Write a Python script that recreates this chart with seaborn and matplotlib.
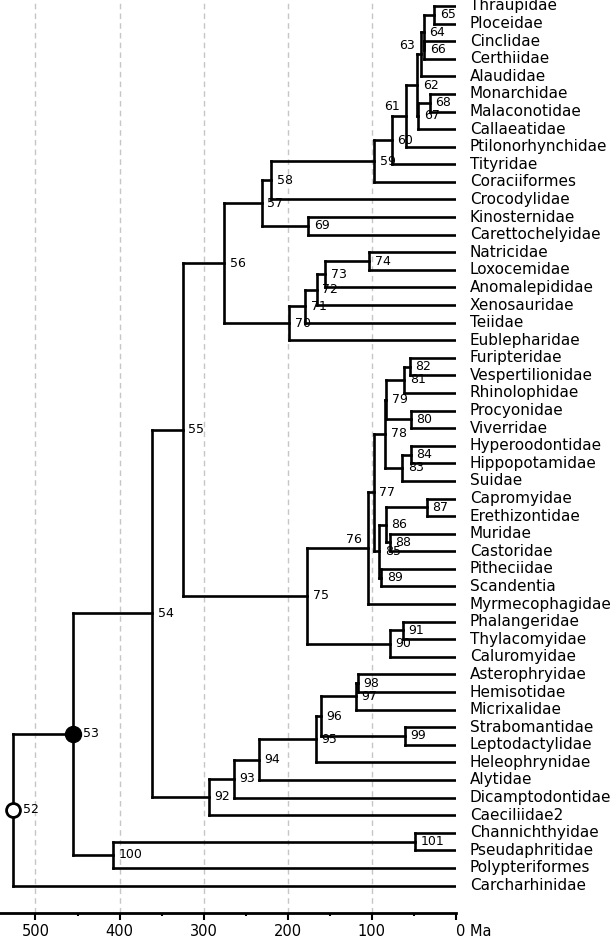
import numpy as np
import pandas as pd
import matplotlib
matplotlib.use('Agg')
import matplotlib.pyplot as plt
import seaborn as sns

# ---------------- data ----------------
tips = ['Thraupidae', 'Ploceidae', 'Cinclidae', 'Certhiidae', 'Alaudidae',
        'Monarchidae', 'Malaconotidae', 'Callaeatidae', 'Ptilonorhynchidae',
        'Tityridae', 'Coraciiformes', 'Crocodylidae', 'Kinosternidae',
        'Carettochelyidae', 'Natricidae', 'Loxocemidae', 'Anomalepididae',
        'Xenosauridae', 'Teiidae', 'Eublepharidae', 'Furipteridae',
        'Vespertilionidae', 'Rhinolophidae', 'Procyonidae', 'Viverridae',
        'Hyperoodontidae', 'Hippopotamidae', 'Suidae', 'Capromyidae',
        'Erethizontidae', 'Muridae', 'Castoridae', 'Pitheciidae', 'Scandentia',
        'Myrmecophagidae', 'Phalangeridae', 'Thylacomyidae', 'Caluromyidae',
        'Asterophryidae', 'Hemisotidae', 'Micrixalidae', 'Strabomantidae',
        'Leptodactylidae', 'Heleophrynidae', 'Alytidae', 'Dicamptodontidae',
        'Caeciliidae2', 'Channichthyidae', 'Pseudaphritidae', 'Polypteriformes',
        'Carcharhinidae']

node_ids = list(range(52, 102))

node_ages = [527, 455, 361, 325, 275.5, 231, 220, 97.5, 76.5, 59.6,   # 52-61
             46, 41.6, 38.5, 25.8, 37.5, 45, 31, 175.6, 198, 179.5,   # 62-71
             165.7, 155.8, 103.4, 176.8, 105, 98, 84, 83, 53.5, 61.4, # 72-81
             54.7, 63.8, 53.5, 91, 83.6, 34.9, 78.5, 89, 78.5, 63.4,  # 82-91
             294.2, 264, 234.2, 166.8, 160.9, 119.3, 116.9, 60.6,     # 92-99
             407.5, 48.4]                                              # 100-101

node_children = [
    [53, 'Carcharhinidae'],                 # 52
    [54, 100],                              # 53
    [55, 92],                               # 54
    [56, 75],                               # 55
    [57, 70],                               # 56
    [58, 69],                               # 57
    [59, 'Crocodylidae'],                   # 58
    [60, 'Coraciiformes'],                  # 59
    [61, 'Tityridae'],                      # 60
    [62, 'Ptilonorhynchidae'],              # 61
    [63, 67],                               # 62
    [64, 'Alaudidae'],                      # 63
    [65, 66],                               # 64
    ['Thraupidae', 'Ploceidae'],            # 65
    ['Cinclidae', 'Certhiidae'],            # 66
    [68, 'Callaeatidae'],                   # 67
    ['Monarchidae', 'Malaconotidae'],       # 68
    ['Kinosternidae', 'Carettochelyidae'],  # 69
    [71, 'Eublepharidae'],                  # 70
    [72, 'Teiidae'],                        # 71
    [73, 'Xenosauridae'],                   # 72
    [74, 'Anomalepididae'],                 # 73
    ['Natricidae', 'Loxocemidae'],          # 74
    [76, 90],                               # 75
    [77, 'Myrmecophagidae'],                # 76
    [78, 85],                               # 77
    [79, 83],                               # 78
    [81, 80],                               # 79
    ['Procyonidae', 'Viverridae'],          # 80
    [82, 'Rhinolophidae'],                  # 81
    ['Furipteridae', 'Vespertilionidae'],   # 82
    [84, 'Suidae'],                         # 83
    ['Hyperoodontidae', 'Hippopotamidae'],  # 84
    [86, 89],                               # 85
    [87, 88],                               # 86
    ['Capromyidae', 'Erethizontidae'],      # 87
    ['Muridae', 'Castoridae'],              # 88
    ['Pitheciidae', 'Scandentia'],          # 89
    [91, 'Caluromyidae'],                   # 90
    ['Phalangeridae', 'Thylacomyidae'],     # 91
    [93, 'Caeciliidae2'],                   # 92
    [94, 'Dicamptodontidae'],               # 93
    [95, 'Alytidae'],                       # 94
    [96, 'Heleophrynidae'],                 # 95
    [97, 99],                               # 96
    [98, 'Micrixalidae'],                   # 97
    ['Asterophryidae', 'Hemisotidae'],      # 98
    ['Strabomantidae', 'Leptodactylidae'],  # 99
    [101, 'Polypteriformes'],               # 100
    ['Channichthyidae', 'Pseudaphritidae'], # 101
]

axis_ticks = [500, 400, 300, 200, 100, 0]
axis_tick_labels = ['500', '400', '300', '200', '100', '0 Ma']
axis_minor_ticks = [450, 350, 250, 150, 50]
grid_lines = [500, 400, 300, 200, 100]

# ---------------- layout ----------------
sns.set_theme(style='white')
plt.rcParams['font.family'] = ['DejaVu Sans']

age = {t: 0.0 for t in tips}
age.update(dict(zip(node_ids, node_ages)))
children = dict(zip(node_ids, node_children))
ypos = {t: float(i) for i, t in enumerate(tips)}


def get_y(n):
    if n in ypos:
        return ypos[n]
    ch = children[n]
    y = (get_y(ch[0]) + get_y(ch[-1])) / 2.0
    ypos[n] = y
    return y


for n in node_ids:
    get_y(n)

rows = []
seg = 0
for n in node_ids:
    ch = children[n]
    rows.append((seg, age[n], ypos[ch[0]]))
    rows.append((seg, age[n], ypos[ch[-1]]))
    seg += 1
    for c in ch:
        rows.append((seg, age[n], ypos[c]))
        rows.append((seg, age[c], ypos[c]))
        seg += 1
df = pd.DataFrame(rows, columns=['seg', 'age', 'y'])

fig = plt.figure(figsize=(6.14, 9.43), dpi=100)
ax = fig.add_axes([0.0, 0.0315, 0.7427, 0.9685])

for g in grid_lines:
    ax.axvline(g, color='#c6c6c6', lw=1.0, ls=(0, (4, 3)), zorder=0)

sns.lineplot(data=df, x='age', y='y', units='seg', estimator=None, sort=False,
             color='black', linewidth=1.9, ax=ax, solid_capstyle='projecting',
             zorder=2, legend=False)

# root circles
ax.plot(age[53], ypos[53], 'o', ms=11.5, color='black', zorder=3)
ax.plot(age[52], ypos[52], 'o', ms=10, mfc='white', mec='black', mew=2, zorder=3)

# node labels
left_nodes = {61, 63, 76}
for n in node_ids:
    if n in (52, 53):
        off, ha = (7.2, 0), 'left'
    elif n in left_nodes:
        off, ha = (-4.3, 6.5), 'right'
    else:
        off, ha = (4.0, 0), 'left'
    ax.annotate(str(n), (age[n], ypos[n]), xytext=off, textcoords='offset points',
                ha=ha, va='center', fontsize=9, color='black', zorder=4,
                annotation_clip=False)

# tip labels
for t in tips:
    ax.annotate(t, (0, ypos[t]), xytext=(10, 0), textcoords='offset points',
                ha='left', va='center', fontsize=11, color='black',
                annotation_clip=False)

ax.set_xlim(542.2, 0)
ax.set_ylim(51.58, -0.341)
for s in ['left', 'top', 'right']:
    ax.spines[s].set_visible(False)
ax.spines['bottom'].set_linewidth(2)
ax.spines['bottom'].set_color('black')
ax.set_xticks(axis_ticks)
ax.set_xticklabels(axis_tick_labels, fontsize=10.5, color='black')
ax.set_xticks(axis_minor_ticks, minor=True)
ax.tick_params(axis='x', which='major', bottom=True, length=5, width=1.5,
               color='black', pad=2.5, direction='out')
ax.tick_params(axis='x', which='minor', bottom=True, length=2, width=1.5,
               color='black', direction='out')
ax.get_xticklabels()[-1].set_ha('left')
ax.set_yticks([])
ax.set_xlabel('')
ax.set_ylabel('')
ax.grid(False)

fig.savefig('out.png', dpi=100)
